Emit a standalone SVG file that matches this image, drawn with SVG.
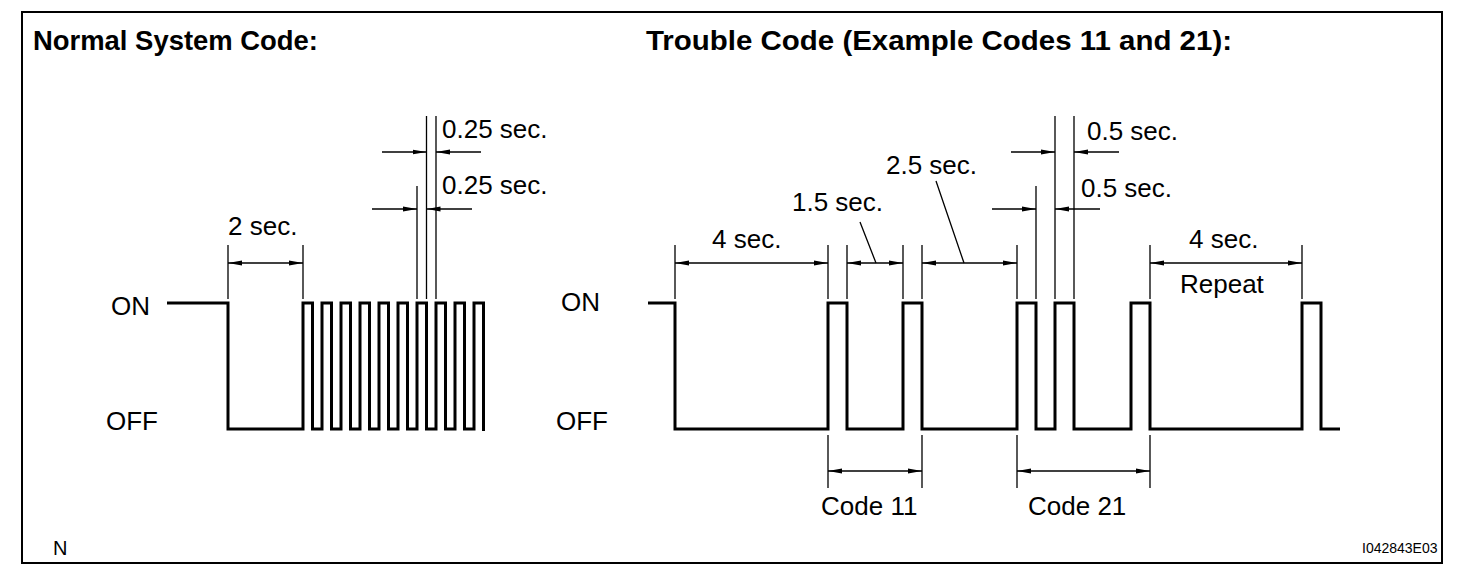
<svg xmlns="http://www.w3.org/2000/svg" width="1472" height="576" viewBox="0 0 1472 576">
<style>
.t{font-family:"Liberation Sans",Arial,sans-serif;font-size:26px;fill:#000}
.h{font-family:"Liberation Sans",Arial,sans-serif;font-size:27px;font-weight:bold;fill:#000}
.w{fill:none;stroke:#000;stroke-width:3;stroke-linejoin:miter}
.d{fill:none;stroke:#000;stroke-width:1.3}
.a{fill:none;stroke:#000;stroke-width:1.3;marker-end:url(#ah)}
.b{fill:none;stroke:#000;stroke-width:1.3;marker-start:url(#ah);marker-end:url(#ah)}
</style>
<defs>
<marker id="ah" viewBox="0 0 14 6" refX="14" refY="3" markerWidth="14" markerHeight="6" markerUnits="userSpaceOnUse" orient="auto-start-reverse">
<path d="M0,0.6 L14,3 L0,5.4 z" fill="#000"/>
</marker>
</defs>
<rect x="22" y="12" width="1420" height="551" fill="#fff" stroke="#000" stroke-width="2"/>
<g id="headers">
<text class="h" x="33" y="50" textLength="285" lengthAdjust="spacingAndGlyphs">Normal System Code:</text>
<text class="h" x="646" y="50" textLength="586" lengthAdjust="spacingAndGlyphs">Trouble Code (Example Codes 11 and 21):</text>
</g>
<g id="normal-waveform">
<path class="w" d="M167,303 H228 V429 H303 V303 H312.5 V429 H322 V303 H331.5 V429 H341 V303 H350.5 V429 H360 V303 H369.5 V429 H379 V303 H388.5 V429 H398 V303 H407.5 V429 H417 V303 H426.5 V429 H436 V303 H445.5 V429 H455 V303 H464.5 V429 H474 V303 H483.5 V431"/>
<text class="t" x="111" y="315">ON</text>
<text class="t" x="106" y="430">OFF</text>
</g>
<g id="trouble-waveform">
<path class="w" d="M648,303 H675 V429 H828 V303 H847 V429 H903 V303 H922 V429 H1017 V303 H1036 V429 H1055 V303 H1074 V429 H1131 V303 H1150 V429 H1302 V303 H1321 V429 H1340"/>
<text class="t" x="561" y="311">ON</text>
<text class="t" x="556" y="430">OFF</text>
</g>
<g id="connectors">
<path class="d" d="M228,245 V299 M303,245 V299 M426.5,116 V299 M436,116 V299 M417,186 V299"/>
<line class="b" x1="228" y1="263" x2="303" y2="263"/>
<line class="a" x1="382" y1="152" x2="426.5" y2="152"/>
<line class="a" x1="481" y1="152" x2="436" y2="152"/>
<line class="a" x1="372" y1="209" x2="417" y2="209"/>
<line class="a" x1="472" y1="209" x2="426.5" y2="209"/>
<path class="d" d="M675,245 V299 M828,245 V299 M847,245 V299 M903,245 V299 M922,245 V299 M1017,245 V299 M1150,245 V299 M1302,245 V299 M1036,186 V299 M1055,116 V299 M1074,116 V299"/>
<line class="b" x1="675" y1="263" x2="828" y2="263"/>
<line class="b" x1="847" y1="263" x2="903" y2="263"/>
<line class="b" x1="922" y1="263" x2="1017" y2="263"/>
<line class="b" x1="1150" y1="263" x2="1302" y2="263"/>
<path class="d" d="M860,222 L876,263 M936,181 L964,263"/>
<line class="a" x1="1011" y1="152" x2="1055" y2="152"/>
<line class="a" x1="1119" y1="152" x2="1074" y2="152"/>
<line class="a" x1="992" y1="209" x2="1036" y2="209"/>
<line class="a" x1="1100" y1="209" x2="1055" y2="209"/>
<path class="d" d="M828,435 V488 M922,435 V488 M1017,435 V488 M1150,435 V488"/>
<line class="b" x1="828" y1="471" x2="922" y2="471"/>
<line class="b" x1="1017" y1="471" x2="1150" y2="471"/>
</g>
<g id="labels">
<text class="t" x="228" y="235">2 sec.</text>
<text class="t" x="442" y="138">0.25 sec.</text>
<text class="t" x="442" y="194">0.25 sec.</text>
<text class="t" x="712" y="248">4 sec.</text>
<text class="t" x="792" y="211">1.5 sec.</text>
<text class="t" x="886" y="174">2.5 sec.</text>
<text class="t" x="1087" y="140">0.5 sec.</text>
<text class="t" x="1081" y="197">0.5 sec.</text>
<text class="t" x="1189" y="248">4 sec.</text>
<text class="t" x="1180" y="293">Repeat</text>
<text class="t" x="821" y="515">Code 11</text>
<text class="t" x="1028" y="515">Code 21</text>
<text class="t" x="53" y="555" style="font-size:20px">N</text>
<text class="t" x="1362" y="553" style="font-size:14px">I042843E03</text>
</g>
</svg>
